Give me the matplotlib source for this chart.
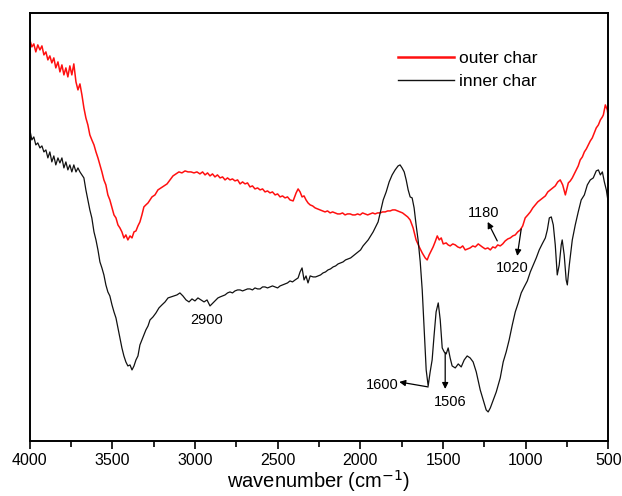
"""
FTIR spectra of outer and inner char
"""

import matplotlib
matplotlib.use("Agg")
import matplotlib.pyplot as plt
from matplotlib.ticker import MultipleLocator

plt.rcParams['font.family'] = ['Liberation Sans', 'DejaVu Sans']

# outer char (red), wavenumber in cm-1, transmittance in a.u.
outer_wn = [4000, 3988, 3976, 3964, 3952, 3939, 3927, 3915, 3903, 3891, 3879, 3867, 3855, 3843,
            3830, 3818, 3806, 3794, 3782, 3770, 3758, 3746, 3734, 3721, 3709, 3697, 3685, 3673,
            3661, 3649, 3637, 3625, 3612, 3600, 3588, 3576, 3564, 3552, 3540, 3528, 3516, 3503,
            3491, 3479, 3467, 3455, 3443, 3431, 3419, 3407, 3394, 3382, 3370, 3358, 3346, 3334,
            3322, 3310, 3298, 3285, 3273, 3261, 3243, 3225, 3207, 3189, 3170, 3152, 3134, 3116,
            3098, 3080, 3061, 3043, 3025, 3007, 2989, 2971, 2955, 2940, 2925, 2910, 2895, 2880,
            2865, 2849, 2834, 2819, 2804, 2789, 2774, 2759, 2743, 2728, 2713, 2698, 2683, 2668,
            2653, 2638, 2622, 2607, 2592, 2577, 2562, 2547, 2532, 2516, 2501, 2486, 2471, 2456,
            2441, 2426, 2407, 2389, 2377, 2365, 2353, 2341, 2329, 2317, 2304, 2289, 2274, 2259,
            2244, 2229, 2214, 2199, 2183, 2168, 2153, 2138, 2123, 2108, 2093, 2078, 2062, 2047,
            2032, 2017, 2002, 1987, 1971, 1956, 1941, 1926, 1911, 1896, 1881, 1866, 1850, 1835,
            1820, 1805, 1790, 1775, 1760, 1745, 1729, 1714, 1699, 1681, 1663, 1644, 1626, 1608,
            1596, 1584, 1572, 1560, 1548, 1535, 1523, 1511, 1499, 1481, 1469, 1457, 1441, 1426,
            1411, 1396, 1381, 1366, 1351, 1336, 1320, 1305, 1287, 1263, 1245, 1229, 1214, 1199,
            1184, 1169, 1154, 1139, 1124, 1108, 1093, 1078, 1063, 1048, 1033, 1018, 1003, 987,
            972, 957, 942, 927, 912, 896, 881, 866, 851, 836, 821, 806, 791, 776, 760, 742,
            730, 718, 706, 694, 682, 670, 657, 645, 633, 621, 609, 597, 585, 573, 560, 548,
            536, 530, 518, 506, 500]
outer_t = [401, 394, 397, 389, 396, 391, 395, 386, 389, 381, 385, 378, 383, 373,
           379, 369, 376, 366, 373, 364, 375, 366, 377, 359, 351, 357, 346, 333,
           323, 316, 306, 301, 296, 289, 283, 276, 269, 261, 256, 246, 241, 233,
           226, 223, 216, 213, 209, 203, 206, 201, 205, 203, 209, 210, 215, 219,
           226, 234, 236, 238, 241, 244, 246, 251, 253, 255, 257, 261, 265, 267,
           269, 268, 270, 269, 269, 268, 269, 267, 269, 266, 268, 265, 267, 264,
           266, 263, 264, 261, 263, 261, 262, 260, 261, 257, 259, 257, 258, 254,
           255, 252, 253, 251, 252, 249, 250, 248, 249, 246, 247, 244, 245, 243,
           244, 241, 240, 248, 252, 249, 244, 245, 241, 238, 236, 235, 233, 232,
           231, 230, 229, 230, 228, 229, 228, 227, 227, 228, 226, 227, 227, 226,
           226, 227, 226, 228, 227, 226, 227, 228, 227, 228, 228, 229, 229, 230,
           230, 231, 231, 230, 229, 228, 226, 224, 221, 213, 201, 194, 188, 183,
           181, 186, 190, 194, 199, 205, 201, 203, 197, 198, 196, 195, 197, 196,
           194, 193, 195, 191, 192, 193, 195, 194, 197, 194, 192, 193, 191, 194,
           193, 196, 195, 197, 200, 202, 203, 205, 206, 209, 211, 215, 223, 226,
           229, 233, 236, 239, 241, 243, 245, 249, 251, 253, 255, 259, 261, 256, 246, 258,
           260, 263, 267, 271, 275, 281, 284, 289, 292, 296, 300, 303, 308, 313, 316, 321,
           324, 326, 336, 331, 323]

# inner char (black)
inner_wn = [4000, 3988, 3976, 3964, 3952, 3939, 3927, 3915, 3903, 3891, 3879, 3867, 3855, 3843,
            3830, 3818, 3806, 3794, 3782, 3770, 3758, 3746, 3734, 3721, 3709, 3697, 3685, 3673,
            3661, 3649, 3637, 3625, 3612, 3600, 3588, 3576, 3564, 3552, 3540, 3528, 3516, 3503,
            3491, 3479, 3467, 3455, 3443, 3431, 3419, 3407, 3394, 3382, 3370, 3358, 3346, 3334,
            3322, 3310, 3298, 3285, 3273, 3255, 3237, 3219, 3201, 3182, 3164, 3146, 3128, 3110,
            3092, 3074, 3055, 3037, 3019, 3001, 2983, 2965, 2946, 2928, 2910, 2892, 2874, 2862,
            2849, 2834, 2819, 2804, 2789, 2774, 2759, 2743, 2728, 2713, 2698, 2683, 2668, 2653,
            2638, 2622, 2607, 2592, 2577, 2562, 2547, 2532, 2516, 2501, 2486, 2471, 2456, 2441,
            2426, 2411, 2395, 2377, 2365, 2353, 2341, 2329, 2317, 2304, 2286, 2271, 2256, 2241,
            2226, 2211, 2196, 2181, 2165, 2150, 2135, 2120, 2105, 2090, 2074, 2059, 2044, 2029,
            2014, 1999, 1984, 1953, 1923, 1893, 1862, 1844, 1826, 1808, 1790, 1772,
            1760, 1748, 1735, 1723, 1711, 1699, 1687, 1675, 1663, 1651, 1638, 1626, 1614, 1602,
            1590, 1578, 1566, 1554, 1542, 1529, 1517, 1505, 1493, 1481, 1469, 1457, 1445, 1426,
            1408, 1390, 1372, 1354, 1336, 1318, 1299, 1275, 1257, 1239, 1227, 1214, 1196, 1178,
            1154, 1136, 1118, 1100, 1081, 1063, 1045, 1027, 1009, 990, 972, 954, 936, 918,
            900, 881, 869, 857, 845, 833, 821, 809, 797, 785, 779, 767, 755, 748, 736, 718,
            700, 682, 664, 645, 627, 609, 591, 573, 560, 548, 536, 524, 512, 500]
inner_t = [311, 301, 304, 296, 298, 293, 295, 289, 291, 283, 289, 279, 285, 276,
           283, 278, 283, 273, 279, 271, 276, 269, 276, 269, 273, 269, 266, 263,
           251, 241, 231, 223, 209, 201, 191, 179, 173, 166, 156, 149, 145, 136,
           129, 123, 113, 103, 93, 85, 79, 75, 76, 71, 75, 81, 85, 96,
           101, 106, 111, 115, 121, 124, 128, 133, 136, 139, 143, 144, 145, 146,
           148, 145, 141, 139, 142, 140, 143, 141, 139, 141, 135, 138, 141, 143,
           144, 145, 146, 148, 149, 148, 150, 151, 151, 150, 151, 152, 152, 151,
           153, 152, 152, 154, 154, 153, 154, 155, 154, 153, 155, 156, 157, 158,
           160, 159, 161, 163, 169, 173, 161, 165, 158, 165, 164, 164, 165, 166,
           168, 169, 171, 172, 174, 175, 177, 178, 179, 181, 182, 183, 185, 187,
           189, 191, 195, 201, 209, 219, 241, 249, 259, 266, 271, 275,
           276, 273, 269, 261, 251, 244, 243, 233, 216, 201, 179, 151, 111, 71,
           55, 69, 81, 106, 129, 138, 121, 93, 89, 87, 93, 83, 75, 73,
           77, 74, 81, 85, 83, 79, 69, 51, 41, 31, 29, 33, 41, 49,
           63, 79, 89, 101, 116, 129, 138, 148, 154, 160, 169, 176, 183, 191,
           197, 203, 211, 223, 224, 216, 196, 166, 176, 196, 201, 186, 161, 156, 176, 201,
           216, 229, 241, 246, 256, 261, 263, 270, 271, 266, 269, 259, 251, 238]

tick_values = [4000, 3500, 3000, 2500, 2000, 1500, 1000, 500]

# peak labels: (text, text position, arrow tail, arrow head)
peak_notes = [
    ("1600", (1868, 56), (1590, 54), (1765, 59)),
    ("1506", (1457, 39), (1487, 88), (1487, 52)),
    ("1020", (1081, 173), (1027, 212), (1051, 185)),
    ("1180", (1257, 228), (1172, 200), (1230, 219)),
]


def main():
    fig = plt.figure(figsize=(6.22, 4.96), dpi=100)
    ax = fig.add_axes([0.048, 0.111, 0.93, 0.863])

    ax.plot(outer_wn, outer_t, color='#ff1010', lw=1.1, label='outer char')
    ax.plot(inner_wn, inner_t, color='#111111', lw=0.9, label='inner char')

    ax.set_xlim(4000, 500)
    ax.set_ylim(0, 428)
    ax.set_xticks(tick_values)
    ax.xaxis.set_minor_locator(MultipleLocator(250))
    ax.tick_params(axis='x', which='major', direction='out', length=6, width=1.2,
                   labelsize=11.5, pad=3)
    ax.tick_params(axis='x', which='minor', direction='out', length=4, width=1.2)
    ax.set_yticks([])
    for sp in ax.spines.values():
        sp.set_linewidth(1.4)

    ax.set_xlabel('wavenumber (cm$^{-1}$)', fontsize=14.5, labelpad=0)

    ax.text(2928, 121, "2900", fontsize=10.5, ha='center', va='center')
    for label, txt_pos, tail, head in peak_notes:
        ax.text(txt_pos[0], txt_pos[1], label, fontsize=10.5, ha='center', va='center')
        ax.annotate("", xy=head, xytext=tail,
                    arrowprops=dict(arrowstyle='-|>', color='black', lw=0.9,
                                    mutation_scale=9, shrinkA=0, shrinkB=0))

    leg = ax.legend(loc='upper left', bbox_to_anchor=(0.61, 0.947), frameon=False,
                    fontsize=12.5, handlelength=3.2, handletextpad=0.3, labelspacing=0.45)
    leg.get_lines()[0].set_linewidth(1.8)
    leg.get_lines()[1].set_linewidth(1.0)

    fig.savefig('out.png', dpi=100)


if __name__ == "__main__":
    main()
